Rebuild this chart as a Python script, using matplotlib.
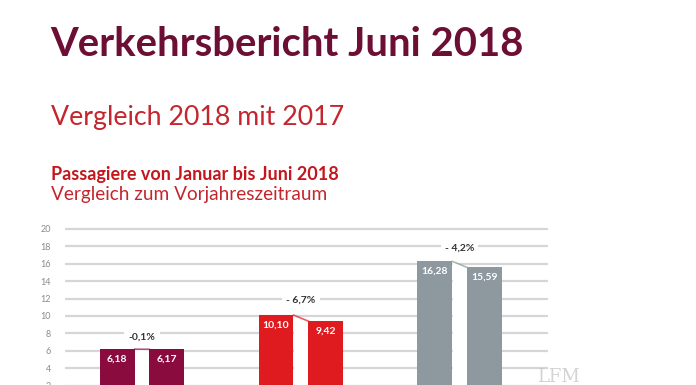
import matplotlib.pyplot as plt
import numpy as np

# Passagiere (Mio.) Jan-Jun, 2017 vs 2018
groups = ["Gruppe 1", "Gruppe 2", "Gruppe 3"]
vals_2017 = [6.18, 10.10, 16.28]
vals_2018 = [6.17, 9.42, 15.59]
labels_2017 = ["6,18", "10,10", "16,28"]
labels_2018 = ["6,17", "9,42", "15,59"]
changes = ["-0,1%", "- 6,7%", "- 4,2%"]
change_y = [7.6, 11.8, 17.85]
colors = ["#8a0b3d", "#e01b20", "#8d999f"]
yticks = [0, 2, 4, 6, 8, 10, 12, 14, 16, 18, 20]

plt.rcParams['font.family'] = ['Lato', 'DejaVu Sans']

fig = plt.figure(figsize=(6.96, 3.85), dpi=100)

fig.text(50/696, 1 - 56/385, "Verkehrsbericht Juni 2018", fontsize=28.8, fontweight='bold',
         color="#6d0f35", ha='left', va='baseline')
fig.text(51/696, 1 - 125/385, "Vergleich 2018 mit 2017", fontsize=19.3, color="#c4262e",
         ha='left', va='baseline')
fig.text(51/696, 1 - 180/385, "Passagiere von Januar bis Juni 2018", fontsize=13, fontweight='bold',
         color="#c4161c", ha='left', va='baseline')
fig.text(51/696, 1 - 200/385, "Vergleich zum Vorjahreszeitraum", fontsize=13.7, color="#c4262e",
         ha='left', va='baseline')

ax = fig.add_axes([65/696, -18/385, 483/696, 178.4/385])
x = np.arange(len(groups))
w = 0.22
off = 0.156

ax.set_xlim(-0.485, 2.557)
ax.set_ylim(0, 20.5)
ax.set_yticks(yticks)
ax.set_yticklabels([str(t) for t in yticks])
ax.tick_params(axis='y', length=0, pad=10, labelsize=6.5, labelcolor="#8a8a8a")
ax.tick_params(axis='x', length=0, labelbottom=False)
ax.yaxis.grid(True, color="#d6d6d6", linewidth=1.6)
ax.set_axisbelow(True)
for s in ax.spines.values():
    s.set_visible(False)

for i in range(len(groups)):
    a, b = vals_2017[i], vals_2018[i]
    x1 = x[i] - off + w/2
    x2 = x[i] + off - w/2
    # white gap under the connecting line
    ax.fill_between([x1, x2], [0, 0], [a, b], color='white', zorder=1.5, linewidth=0)
    ax.plot([x1, x2], [a, b], color=colors[i], linewidth=1.2, alpha=0.7, zorder=2)
    ax.bar(x[i] - off, a, w, color=colors[i], zorder=2)
    ax.bar(x[i] + off, b, w, color=colors[i], zorder=2)
    ax.text(x[i] - off, a - 1.15, labels_2017[i], color='white', fontweight='bold',
            fontsize=7.5, ha='center', va='center', zorder=3)
    ax.text(x[i] + off, b - 1.15, labels_2018[i], color='white', fontweight='bold',
            fontsize=7.5, ha='center', va='center', zorder=3)
    ax.text(x[i], change_y[i], changes[i], color="#333333", fontweight='bold', fontsize=7.5,
            ha='center', va='center', zorder=3,
            bbox=dict(facecolor='white', edgecolor='none', pad=3))

fig.text(558/696, 1 - 377/385, "LFM", fontsize=13, family='DejaVu Serif', color="#c8c8c8",
         ha='center', va='center', alpha=0.8)

fig.savefig("out.png", dpi=100)
